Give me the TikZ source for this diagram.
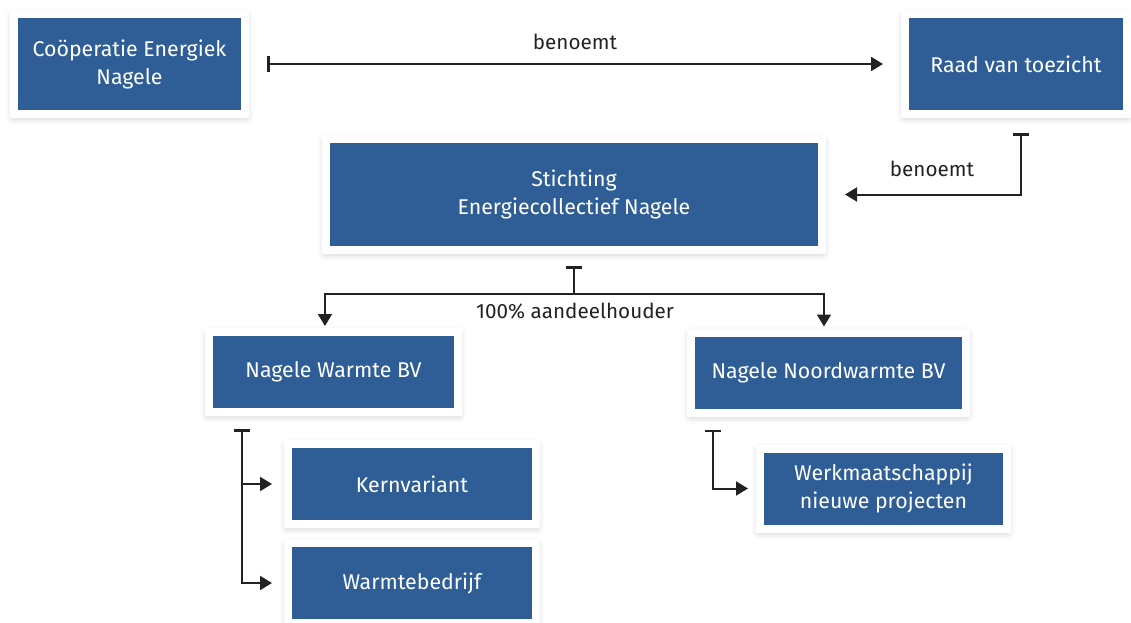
\documentclass[tikz,border=0pt]{standalone}
\usepackage{fontspec}
\setmainfont{Fira Sans}
\usetikzlibrary{arrows.meta, calc, shadows.blur}
\definecolor{boxblue}{HTML}{2F5E97}
\definecolor{lijn}{HTML}{222222}

\begin{document}
\begin{tikzpicture}[x=0.75pt,y=0.75pt,yscale=-1,xscale=1,
  orgbox/.style={fill=boxblue, draw=white, line width=6pt, inner sep=0pt,
    text=white, align=center, font=\fontsize{16}{21}\selectfont,
    blur shadow={shadow xshift=0pt, shadow yshift=-2pt, shadow blur radius=6pt, shadow opacity=30}},
  conn/.style={draw=lijn, line width=1.5pt},
  tbar/.tip={Bar[width=12pt, line width=2pt]},
  tpijl/.tip={Triangle[length=9pt, width=10.5pt]},
  lbl/.style={text=lijn, font=\fontsize{15.5}{18}\selectfont}]
\useasboundingbox (0,0) rectangle (1131,622);

%Shape: Rectangle [boxes]
\node[orgbox, minimum width=173.25pt, minimum height=75pt] (coop) at (129.5,64) {Coöperatie Energiek\\Nagele};
\node[orgbox, minimum width=166.5pt, minimum height=75pt] (raad) at (1016,64) {Raad van toezicht};
\node[orgbox, minimum width=372pt, minimum height=83.25pt] (stichting) at (574,194.5) {Stichting\\Energiecollectief Nagele};
\node[orgbox, minimum width=186.75pt, minimum height=60pt] (warmte) at (333.5,372) {Nagele Warmte BV};
\node[orgbox, minimum width=206.25pt, minimum height=60pt] (noord) at (828.5,372.5) {Nagele Noordwarmte BV};
\node[orgbox, minimum width=186pt, minimum height=60pt] (kern) at (412,484) {Kernvariant};
\node[orgbox, minimum width=186pt, minimum height=60pt] (bedrijf) at (412,583) {Warmtebedrijf};
\node[orgbox, minimum width=185.25pt, minimum height=60pt] (werk) at (883.5,488.5) {Werkmaatschappij\\nieuwe projecten};

% Text Node
\node[lbl] (benoemt1) at (575,42) {benoemt};
\node[lbl] (benoemt2) at (932,169) {benoemt};
\node[lbl] (aandeel) at (575,311) {100\% aandeelhouder};

%Straight Lines [coop -> raad]
\draw[conn, tbar-tpijl, shorten <=13.5pt, shorten >=13.5pt] (coop.east) -- (raad.west);

%Shape: Elbow [raad -> stichting]
\draw[conn, tbar-tpijl, shorten <=11.25pt, shorten >=14.25pt] ([xshift=3.75pt]raad.south) |- (stichting.east);

%Shape: Elbow [stichting -> dochters]
\coordinate (split) at (574,293.5);
\draw[conn, tbar-, shorten <=9pt] (stichting.south) -- (split);
\draw[conn, -tpijl, shorten >=1.5pt] (split) -| ([xshift=-6.4pt]warmte.north);
\draw[conn, -tpijl, shorten >=1.5pt] (split) -| ([xshift=-3.4pt]noord.north);

%Shape: Elbow [warmte -> kern, bedrijf]
\coordinate (wtop) at ($(warmte.south west)+(36.5,0)$);
\draw[conn, tbar-tpijl, shorten <=9.75pt, shorten >=9pt] (wtop) |- (bedrijf.west);
\draw[conn, -tpijl, shorten >=9pt] (wtop |- kern.west) -- (kern.west);

%Shape: Elbow [noord -> werk]
\coordinate (ntop) at ($(noord.south west)+(26,0)$);
\draw[conn, tbar-tpijl, shorten <=9.75pt, shorten >=6pt] (ntop) |- (werk.west);

\end{tikzpicture}
\end{document}
